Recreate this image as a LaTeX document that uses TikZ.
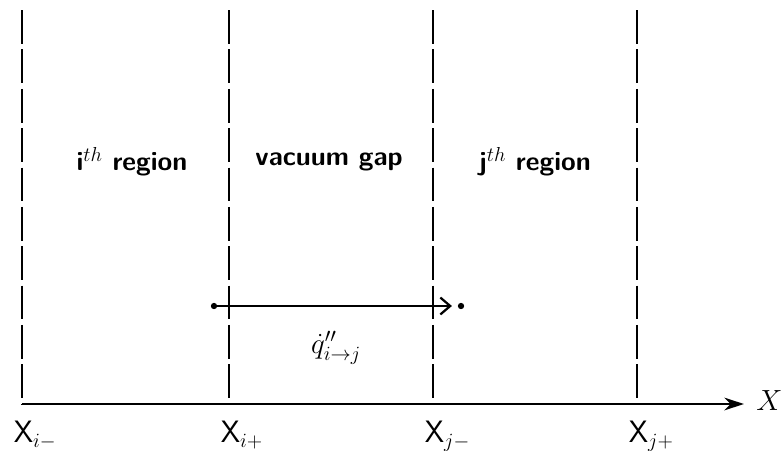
\documentclass[tikz,border=0pt]{standalone}
\usepackage{amsmath}
\usepackage{tikz}
\usetikzlibrary{arrows.meta, positioning}

\tikzset{
  bound/.style={line width=1.3pt, dash pattern=on 24pt off 4pt},
  axisline/.style={line width=2pt},
  regionlab/.style={font=\sffamily\bfseries\fontsize{19}{23}\selectfont},
  xlab/.style={font=\sffamily\fontsize{22}{26}\selectfont, anchor=north west, inner sep=0pt},
  dot/.style={circle, fill=black, inner sep=0pt, minimum size=4.5pt},
}

\begin{document}
\begin{tikzpicture}[x=0.025cm, y=-0.025cm, >={Stealth[length=14pt, width=9pt]}]
  \useasboundingbox (0,0) rectangle (782,450);
  % region boundaries
  \foreach \name/\xx in {im/22, ip/229, jm/433, jp/637} {
    \coordinate (top\name) at (\xx,10);
    \coordinate (bot\name) at (\xx,404);
    \draw[bound] (top\name) -- (bot\name);
  }
  % x axis
  \coordinate (axend) at (744,404);
  \draw[axisline, ->] (botim) -- (axend);
  \node[font=\fontsize{22}{26}\selectfont, anchor=west, inner sep=0pt] (xname) at (756,401) {$X$};
  % positions on the axis
  \node[xlab] (lim) at ([xshift=-6pt, yshift=-12pt]botim) {X$_{i-}$};
  \node[xlab] (lip) at ([xshift=-6pt, yshift=-12pt]botip) {X$_{i+}$};
  \node[xlab] (ljm) at ([xshift=-6pt, yshift=-12pt]botjm) {X$_{j-}$};
  \node[xlab] (ljp) at ([xshift=-6pt, yshift=-12pt]botjp) {X$_{j+}$};
  % regions
  \node[regionlab] (regi) at (132,162) {i$^{th}$ region};
  \node[regionlab] (gap) at (329,162) {vacuum gap};
  \node[regionlab] (regj) at (535,162) {j$^{th}$ region};
  % heat flux across the gap
  \node[dot] (qa) at (214,306) {};
  \node[dot] (qb) at (461,306) {};
  \draw[line width=1.6pt, -{Straight Barb[length=7pt, width=12pt, line width=1.6pt]}, shorten >=4pt]
    (qa) -- (qb);
  \node[font=\fontsize{22}{26}\selectfont, inner sep=1pt] (flux) at (336,348) {$\dot{q}''_{i\to j}$};
\end{tikzpicture}
\end{document}
